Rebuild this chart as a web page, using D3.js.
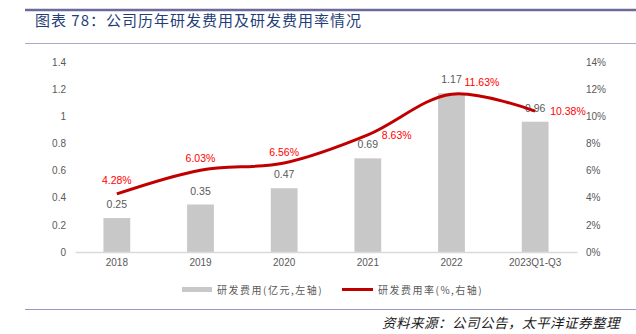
<!DOCTYPE html>
<html><head><meta charset="utf-8">
<script src="https://cdn.jsdelivr.net/npm/d3@7"></script>
<style>
html,body{margin:0;padding:0;background:#fff;}
svg{display:block;font-family:"Liberation Sans","Noto Sans CJK SC",sans-serif;}
</style></head>
<body><svg id="c" width="636" height="334"></svg>
<script>
const categories = ["2018","2019","2020","2021","2022","2023Q1-Q3"];
const rdExpense = [0.25,0.35,0.47,0.69,1.17,0.96];
const rdRatio = [4.28,6.03,6.56,8.63,11.63,10.38];
const leftTicks = [0,0.2,0.4,0.6,0.8,1,1.2,1.4];
const rightTicks = [0,2,4,6,8,10,12,14];
const titleText = "图表 78：公司历年研发费用及研发费用率情况";
const sourceText = "资料来源：公司公告，太平洋证券整理";
const legendLabels = ["研发费用(亿元,左轴)","研发费用率(%,右轴)"];

const svg = d3.select("#c");
const cjk = '"Noto Sans CJK SC",sans-serif';

// header lines and title
svg.append("line").attr("x1",25).attr("x2",636).attr("y1",10).attr("y2",10)
  .attr("stroke","#6b6b9b").attr("stroke-width",2.5);
svg.append("text").attr("x",35).attr("y",26).text(titleText)
  .attr("font-family",cjk).attr("font-size",15).attr("letter-spacing",1).attr("fill","#1f3f78");
svg.append("line").attr("x1",25).attr("x2",636).attr("y1",43.5).attr("y2",43.5)
  .attr("stroke","#aaaacb").attr("stroke-width",1);

const x = d3.scaleBand().domain(categories).range([75,577]).paddingInner(0.68).paddingOuter(0.34);
const yL = d3.scaleLinear().domain([0,1.4]).range([252,62]);
const yR = d3.scaleLinear().domain([0,14]).range([252,62]);
const cx = d => x(d) + x.bandwidth()/2;

// left axis
const gl = svg.append("g").attr("transform","translate(70,0)")
  .call(d3.axisLeft(yL).tickValues(leftTicks).tickSize(0).tickPadding(4).tickFormat(d=>String(d)));
gl.select(".domain").remove();
gl.selectAll("text").attr("font-size",10).attr("fill","#595959").attr("font-family",'"Liberation Sans",sans-serif');

// right axis
const gr = svg.append("g").attr("transform","translate(582,0)")
  .call(d3.axisRight(yR).tickValues(rightTicks).tickSize(0).tickPadding(4).tickFormat(d=>d+"%"));
gr.select(".domain").remove();
gr.selectAll("text").attr("font-size",10).attr("fill","#595959").attr("font-family",'"Liberation Sans",sans-serif');

// bars
svg.append("g").selectAll("rect").data(categories).join("rect")
  .attr("x",d=>x(d)).attr("width",x.bandwidth())
  .attr("y",(d,i)=>yL(rdExpense[i])).attr("height",(d,i)=>yL(0)-yL(rdExpense[i]))
  .attr("fill","#c8c8c8");

// x axis
const gx = svg.append("g").attr("transform","translate(0,252)")
  .call(d3.axisBottom(x).tickSize(0).tickPadding(7));
gx.select(".domain").attr("stroke","#d9d9d9").attr("stroke-width",1.5);
gx.selectAll("text").attr("font-size",10).attr("fill","#595959").attr("font-family",'"Liberation Sans",sans-serif');

// bar labels
svg.append("g").selectAll("text").data(categories).join("text")
  .attr("x",d=>cx(d)).attr("y",(d,i)=>yL(rdExpense[i])-10)
  .attr("text-anchor","middle").attr("font-size",10.5).attr("fill","#595959")
  .text((d,i)=>rdExpense[i]);

// line
const line = d3.line().x((d,i)=>cx(categories[i])).y(d=>yR(d)).curve(d3.curveCatmullRom.alpha(0.5));
svg.append("path").datum(rdRatio).attr("d",line).attr("fill","none")
  .attr("stroke","#c00000").attr("stroke-width",3);

// line labels
const lblOff = [[0,-10,"middle"],[0,-8,"middle"],[0,-7,"middle"],[14,4,"start"],[13,-8,"start"],[15,4,"start"]];
svg.append("g").selectAll("text").data(categories).join("text")
  .attr("x",(d,i)=>cx(d)+lblOff[i][0]).attr("y",(d,i)=>yR(rdRatio[i])+lblOff[i][1])
  .attr("text-anchor",(d,i)=>lblOff[i][2]).attr("font-size",10.5).attr("fill","#ff0000")
  .text((d,i)=>rdRatio[i].toFixed(2)+"%");

// legend
const lg = svg.append("g");
lg.append("rect").attr("x",182).attr("y",287).attr("width",30).attr("height",5).attr("fill","#c8c8c8");
lg.append("text").attr("x",217).attr("y",293.5).text(legendLabels[0])
  .attr("font-family",cjk).attr("font-size",10).attr("letter-spacing",1.5).attr("fill","#595959");
lg.append("line").attr("x1",342).attr("x2",373).attr("y1",289.5).attr("y2",289.5)
  .attr("stroke","#c00000").attr("stroke-width",3);
lg.append("text").attr("x",378).attr("y",293.5).text(legendLabels[1])
  .attr("font-family",cjk).attr("font-size",10).attr("letter-spacing",1.5).attr("fill","#595959");

// footer
svg.append("line").attr("x1",25).attr("x2",636).attr("y1",309.5).attr("y2",309.5)
  .attr("stroke","#9a9ac0").attr("stroke-width",1);
svg.append("text").attr("x",620).attr("y",328).attr("text-anchor","end").text(sourceText)
  .attr("font-family",cjk).attr("font-size",13.5).attr("font-style","italic").attr("letter-spacing",0.5).attr("fill","#1a1a1a");
</script></body></html>
